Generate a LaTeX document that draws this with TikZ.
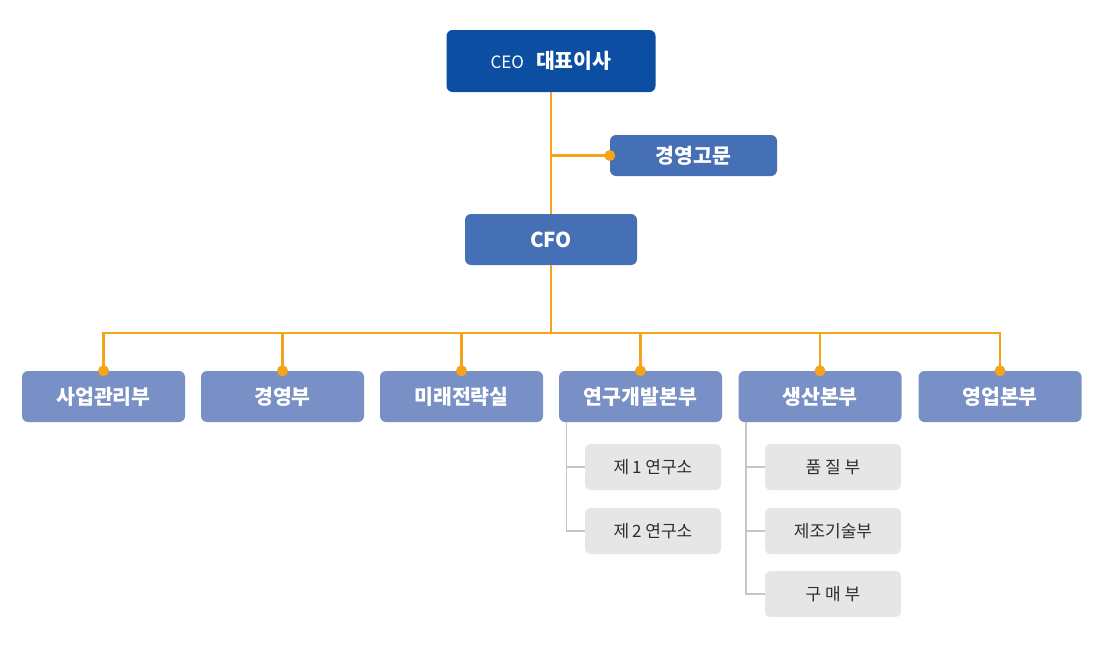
\documentclass[tikz,border=0pt]{standalone}
\usepackage{fontspec}
\setmainfont{Noto Sans CJK KR}
\usetikzlibrary{positioning}

\definecolor{ceoblue}{HTML}{0B4EA2}
\definecolor{midblue}{HTML}{4670B5}
\definecolor{deptblue}{HTML}{7890C6}
\definecolor{linkorange}{HTML}{F4A31B}
\definecolor{subgray}{HTML}{E6E6E6}
\definecolor{subline}{HTML}{C6C6C6}
\definecolor{subtext}{HTML}{2E2E2E}

\begin{document}
\begin{tikzpicture}[x=1pt,y=-1pt,
  box/.style={rounded corners=6pt,inner sep=0pt,text=white,
    font=\fontsize{20.5}{24}\selectfont\bfseries},
  topbox/.style={box,fill=ceoblue,minimum width=209pt,minimum height=62pt},
  midbox/.style={box,fill=midblue,minimum height=41pt},
  dept/.style={box,fill=deptblue,minimum width=163pt,minimum height=51pt},
  subbox/.style={rounded corners=5pt,inner sep=0pt,fill=subgray,text=subtext,
    minimum width=136pt,minimum height=46pt,font=\fontsize{17}{20}\selectfont},
  orline/.style={draw=linkorange,line width=2.2pt},
  grline/.style={draw=subline,line width=1.8pt}]
\useasboundingbox (0,0) rectangle (1100,648);

\node[topbox] (ceo) at (551,61) {{\fontsize{17}{20}\selectfont\mdseries CEO}\hspace{12pt}대표이사};
\node[midbox,minimum width=167pt] (adv) at (693.5,155.5) {경영고문};
\node[midbox,minimum width=172pt,minimum height=51pt] (cfo) at (551,239.5) {CFO};

\node[dept] (d1) at (103.5,396.5) {사업관리부};
\node[dept] (d2) at (282.5,396.5) {경영부};
\node[dept] (d3) at (461.5,396.5) {미래전략실};
\node[dept] (d4) at (640.5,396.5) {연구개발본부};
\node[dept] (d5) at (820,396.5) {생산본부};
\node[dept] (d6) at (1000,396.5) {영업본부};

\node[subbox] (r1) at (653,467) {제\,1 연구소};
\node[subbox] (r2) at (653,531) {제\,2 연구소};
\node[subbox] (p1) at (833,467) {품 질 부};
\node[subbox] (p2) at (833,531) {제조기술부};
\node[subbox] (p3) at (833,594) {구 매 부};

\coordinate (advjoin) at (ceo.south |- adv.west);
\coordinate (bus) at (551,333);

% top links
\draw[orline] (ceo.south) -- (cfo.north);
\draw[orline] (advjoin) -- (adv.west);
\fill[linkorange] (adv.west) circle (5.5pt);
\draw[orline] (cfo.south) -- (bus);
\foreach \d in {d1,d2,d3,d4,d5,d6}{
  \draw[orline] (bus) -| (\d.north);
  \fill[linkorange] (\d.north) circle (5.5pt);
}

% sub links
\draw[grline] ([xshift=-74pt]d4.south) |- (r2.west);
\draw[grline] ([xshift=-74pt]d4.south |- r1.west) -- (r1.west);
\draw[grline] ([xshift=-74pt]d5.south) |- (p3.west);
\draw[grline] ([xshift=-74pt]d5.south |- p1.west) -- (p1.west);
\draw[grline] ([xshift=-74pt]d5.south |- p2.west) -- (p2.west);
\end{tikzpicture}
\end{document}
